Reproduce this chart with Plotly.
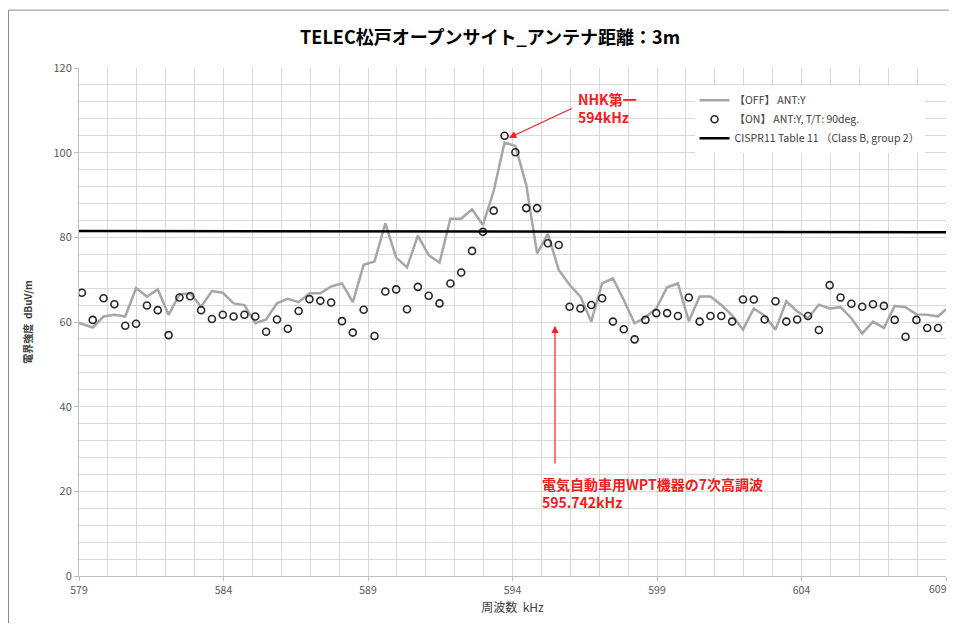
import plotly.graph_objects as go

# sweep frequencies (kHz)
freq_on = [round(579.1 + 0.375 * i, 3) for i in range(80)]
freq_off = [579.0] + freq_on[1:] + [609.0]

# 【OFF】 ANT:Y  (dBuV/m)
level_off = [
    59.8, 58.7, 61.3, 61.7, 61.3, 68.0, 66.0, 67.7, 61.7, 66.5,
    66.8, 63.6, 67.3, 66.9, 64.4, 64.0, 59.7, 60.6, 64.4, 65.5,
    64.7, 66.8, 66.8, 68.4, 69.1, 64.7, 73.5, 74.3, 83.3, 75.2,
    72.9, 80.4, 75.8, 74.0, 84.4, 84.4, 86.6, 82.9, 91.0, 102.4,
    101.6, 92.4, 76.2, 80.8, 72.3, 68.8, 66.0, 60.1, 69.1, 70.3,
    65.2, 59.7, 61.1, 63.2, 68.2, 69.1, 60.2, 66.0, 66.0, 64.0,
    61.6, 58.2, 63.2, 61.5, 58.2, 64.9, 62.5, 60.9, 64.1, 63.2,
    63.5, 60.9, 57.3, 60.1, 58.6, 63.8, 63.5, 61.8, 61.7, 61.3,
    63.0,
]

# 【ON】 ANT:Y, T/T: 90deg.
level_on = [
    66.9, 60.5, 65.6, 64.2, 59.1, 59.6, 63.9, 62.8, 56.9, 65.8,
    66.1, 62.8, 60.7, 61.7, 61.3, 61.7, 61.3, 57.7, 60.6, 58.4,
    62.6, 65.4, 65.0, 64.6, 60.2, 57.5, 62.9, 56.7, 67.2, 67.7,
    63.0, 68.3, 66.2, 64.4, 69.1, 71.7, 76.8, 81.3, 86.3, 104.0,
    100.1, 86.9, 86.9, 78.6, 78.2, 63.6, 63.2, 64.0, 65.6, 60.1,
    58.3, 55.9, 60.5, 62.1, 62.1, 61.4, 65.8, 60.1, 61.4, 61.4,
    60.1, 65.3, 65.3, 60.6, 64.9, 60.1, 60.6, 61.4, 58.1, 68.7,
    65.8, 64.3, 63.6, 64.2, 63.8, 60.5, 56.5, 60.5, 58.6, 58.6,
]

# CISPR11 limit
limit_freq = [579, 609]
limit_level = [81.5, 81.2]

x_ticks = [579, 584, 589, 594, 599, 604, 609]
x_labels = [str(v) for v in x_ticks[:-1]] + [""]  # last one drawn as annotation so it is not clipped

RED = "#f02020"
FONT = "Noto Sans CJK JP"

fig = go.Figure()
fig.add_trace(go.Scatter(x=freq_off, y=level_off, mode="lines", name="【OFF】 ANT:Y",
                         line=dict(color="#a6a6a6", width=2.5)))
fig.add_trace(go.Scatter(x=freq_on, y=level_on, mode="markers", name="【ON】 ANT:Y, T/T: 90deg.",
                         marker=dict(symbol="circle-open", size=7, color="#262626",
                                     line=dict(width=1.6, color="#262626"))))
fig.add_trace(go.Scatter(x=limit_freq, y=limit_level, mode="lines",
                         name="CISPR11 Table 11 （Class B, group 2）",
                         line=dict(color="black", width=2.5)))

# arrows
fig.add_annotation(x=593.88, y=103.5, ax=596.1, ay=110.6, xref="x", yref="y", axref="x", ayref="y",
                   text="", showarrow=True, arrowhead=2, arrowsize=1.2, arrowwidth=1.2, arrowcolor=RED)
fig.add_annotation(x=595.47, y=59.1, ax=595.47, ay=26.2, xref="x", yref="y", axref="x", ayref="y",
                   text="", showarrow=True, arrowhead=2, arrowsize=1.2, arrowwidth=1.2, arrowcolor=RED)
# labels
fig.add_annotation(x=596.2, y=110.6, xref="x", yref="y", xanchor="left", yanchor="middle",
                   text="<b>NHK第一<br>594kHz</b>", showarrow=False, align="left",
                   font=dict(family=FONT, size=14, color=RED))
fig.add_annotation(x=594.95, y=19.6, xref="x", yref="y", xanchor="left", yanchor="middle",
                   text="<b>電気自動車用WPT機器の7次高調波<br>595.742kHz</b>", showarrow=False, align="left",
                   font=dict(family=FONT, size=14, color=RED))
fig.add_annotation(x=x_ticks[-1], y=0, xref="x", yref="paper", xanchor="right", yanchor="top",
                   xshift=3, yshift=-3, text=str(x_ticks[-1]), showarrow=False,
                   font=dict(family=FONT, size=10.5, color="#595959"))

# chart frame
fig.add_shape(type="rect", xref="paper", yref="paper", x0=-0.0813, x1=1.02, y0=-0.13, y1=1.114,
              line=dict(color="#8c8c8c", width=1), layer="below")

# page body adds an 8px offset, so the figure is sized to fit inside the window
fig.update_layout(
    width=949, height=615,
    margin=dict(l=71, r=11, t=60, b=47, autoexpand=False),
    paper_bgcolor="white", plot_bgcolor="white",
    font=dict(family=FONT, color="#404040"),
    title=dict(text="<b>TELEC松戸オープンサイト_アンテナ距離：3m</b>", x=0.508, xanchor="center",
               y=1 - 30 / 615, yanchor="middle", yref="container", automargin=False,
               font=dict(family=FONT, size=18, color="black")),
    showlegend=True,
    legend=dict(x=0.71, y=0.965, xanchor="left", yanchor="top", bgcolor="white",
                font=dict(family=FONT, size=10.5, color="#404040"), tracegroupgap=2),
    xaxis=dict(range=[579, 609], tickvals=x_ticks, ticktext=x_labels, ticks="outside", ticklen=4,
               tickcolor="#bfbfbf", showgrid=True, gridcolor="#d9d9d9", automargin=False,
               minor=dict(dtick=1, showgrid=True, gridcolor="#d9d9d9", ticks=""),
               showline=True, linecolor="#bfbfbf", zeroline=False,
               tickfont=dict(size=10.5, color="#595959"),
               title=dict(text="周波数  kHz", font=dict(size=12, color="#404040"), standoff=8)),
    yaxis=dict(range=[0, 120], dtick=20, ticks="outside", ticklen=4, tickcolor="#bfbfbf",
               showgrid=True, gridcolor="#d9d9d9", automargin=False,
               minor=dict(dtick=4, showgrid=True, gridcolor="#d9d9d9", ticks=""),
               showline=True, linecolor="#bfbfbf", zeroline=False,
               tickfont=dict(size=11, color="#595959"),
               title=dict(text="<b>電界強度  dBuV/m</b>", font=dict(size=10, color="#404040"), standoff=18)),
)

fig.write_html("out.html")
